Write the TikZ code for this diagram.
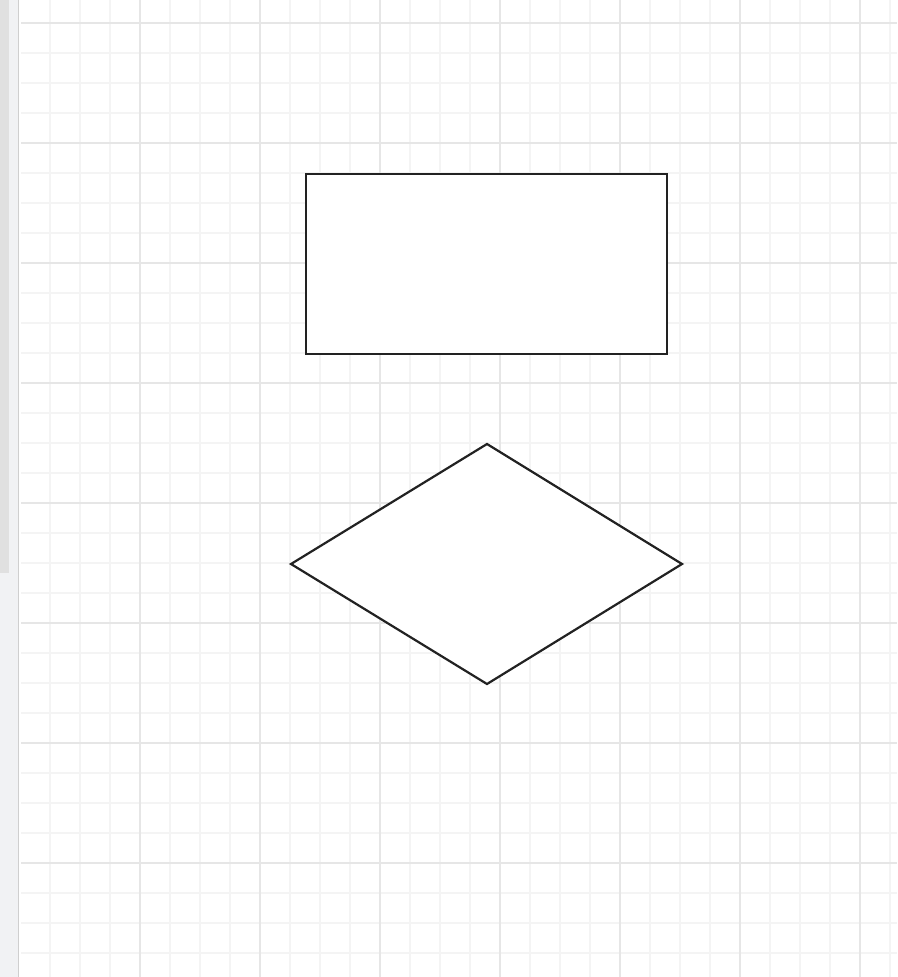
\documentclass[tikz,border=0pt]{standalone}
\usetikzlibrary{shapes.geometric}
\definecolor{minorgrid}{HTML}{F4F4F4}
\definecolor{majorgrid}{HTML}{E6E6E6}
\definecolor{sidebar}{HTML}{F1F2F4}
\definecolor{scrollbar}{HTML}{E0E0E0}
\definecolor{edge}{HTML}{222222}
\tikzset{
  shapeline/.style={draw=edge, line width=2.2pt, fill=white, line join=miter},
}
\begin{document}
\begin{tikzpicture}[x=1pt,y=-1pt]
\useasboundingbox (0,0) rectangle (897,977);
\fill[white] (0,0) rectangle (897,977);
% side panel
\fill[sidebar] (0,0) rectangle (18,977);
\fill[scrollbar] (0,0) rectangle (9,573);
\draw[color=majorgrid!90!black, line width=1.5pt] (18.5,0) -- (18.5,977);
% minor grid
\foreach \x in {50,80,110,170,200,230,290,320,350,410,440,470,530,560,590,650,680,710,770,800,830,890}
  \draw[minorgrid, line width=2pt] (\x,0) -- (\x,977);
\foreach \y in {53,83,113,173,203,233,293,323,353,413,443,473,533,563,593,653,683,713,773,803,833,893,923,953}
  \draw[minorgrid, line width=2pt] (21,\y) -- (897,\y);
% major grid
\foreach \x in {140,260,380,500,620,740,860}
  \draw[majorgrid, line width=2.4pt] (\x,0) -- (\x,977);
\foreach \y in {23,143,263,383,503,623,743,863}
  \draw[majorgrid, line width=2.4pt] (21,\y) -- (897,\y);
% shapes
\path[shapeline] (306,174) rectangle (667,354);
\coordinate (box) at (486.5,264);
\path[shapeline] (487,444) -- (682,564) -- (487,684) -- (291,564) -- cycle;
\coordinate (dia) at (487,564);
\end{tikzpicture}
\end{document}
